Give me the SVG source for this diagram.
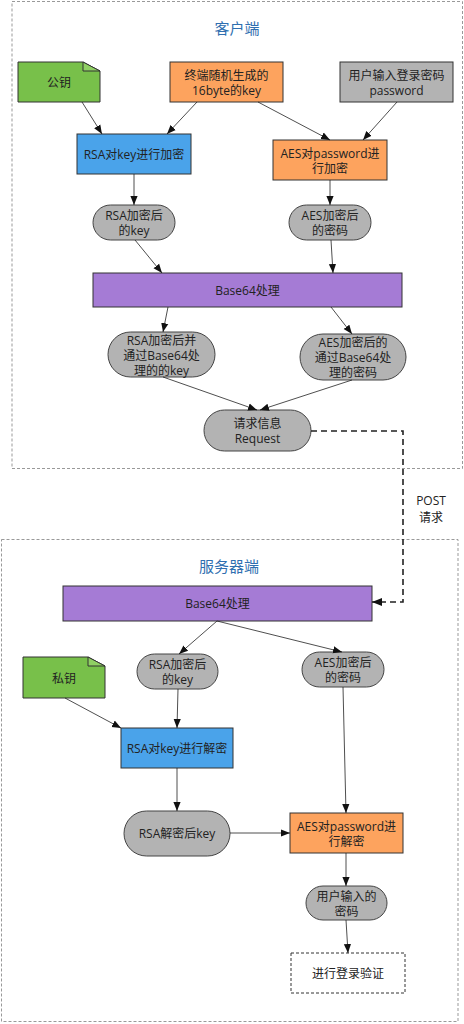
<svg xmlns="http://www.w3.org/2000/svg" width="464" height="1024" viewBox="0 0 464 1024">
<defs>
<style>
text{font-family:"Open Sans","Noto Sans CJK SC",sans-serif;font-size:12px;fill:#222;text-anchor:middle;dominant-baseline:central}
.title{font-size:15px;fill:#2f6fb0}
.frame{fill:none;stroke:#999;stroke-width:1;stroke-dasharray:3 2}
.n{stroke:#333;stroke-width:1}
.green{fill:#78c04a}
.orange{fill:#fda35e}
.gray{fill:#b3b3b3}
.blue{fill:#4aa3ea}
.purple{fill:#a57bd5}
.pill{fill:#b3b3b3;stroke:#444;stroke-width:1}
.c line{stroke:#222;stroke-width:0.8;fill:none;marker-end:url(#ah)}
.c .post{stroke:#222;stroke-width:1.6;fill:none;stroke-dasharray:6 4;marker-end:url(#ah2)}
</style>
<marker id="ah" viewBox="0 0 10 10" refX="10" refY="5" markerWidth="9" markerHeight="9" markerUnits="userSpaceOnUse" orient="auto"><path d="M0,1 L10,5 L0,9 Z" fill="#111"/></marker>
<marker id="ah2" viewBox="0 0 10 10" refX="10" refY="5" markerWidth="10" markerHeight="10" markerUnits="userSpaceOnUse" orient="auto"><path d="M0,1 L10,5 L0,9 Z" fill="#111"/></marker>
</defs>
<rect width="464" height="1024" fill="#fff"/>

<g id="client-frame">
<rect class="frame" x="12" y="1.5" width="450.5" height="467"/>
<text class="title" x="237" y="28">客户端</text>
</g>
<g id="server-frame">
<rect class="frame" x="1.5" y="539.5" width="456.5" height="482"/>
<text class="title" x="229" y="566">服务器端</text>
</g>

<g id="pubkey">
<path class="n green" d="M18,62 H83 L100,71 V102 H18 Z"/>
<path class="n" fill="#8fcf63" d="M83,62 V71 H100 Z"/>
<text x="59" y="82">公钥</text>
</g>
<g id="randkey">
<rect class="n orange" x="170" y="62" width="113" height="40"/>
<text x="226.5" y="75.5">终端随机生成的</text>
<text x="226.5" y="90.5">16byte的key</text>
</g>
<g id="password">
<rect class="n gray" x="340" y="62" width="113" height="40"/>
<text x="396.5" y="75.5">用户输入登录密码</text>
<text x="396.5" y="90.5">password</text>
</g>
<g id="rsa-enc">
<rect class="n blue" x="77" y="134" width="114" height="40"/>
<text x="134" y="154">RSA对key进行加密</text>
</g>
<g id="aes-enc">
<rect class="n orange" x="273" y="140" width="114" height="40"/>
<text x="330" y="153.5">AES对password进</text>
<text x="330" y="168.5">行加密</text>
</g>
<g id="rsa-key">
<rect class="pill" x="93" y="205" width="82" height="35" rx="17.5"/>
<text x="134" y="215.5">RSA加密后</text>
<text x="134" y="230.5">的key</text>
</g>
<g id="aes-pwd">
<rect class="pill" x="289" y="205" width="82" height="35" rx="17.5"/>
<text x="330" y="215.5">AES加密后</text>
<text x="330" y="230.5">的密码</text>
</g>
<g id="base64-client">
<rect class="n purple" x="93" y="273" width="309" height="34"/>
<text x="247.5" y="290">Base64处理</text>
</g>
<g id="rsa-b64">
<rect class="pill" x="108" y="332" width="107" height="45" rx="22.5"/>
<text x="161.5" y="340">RSA加密后并</text>
<text x="161.5" y="355">通过Base64处</text>
<text x="161.5" y="370">理的的key</text>
</g>
<g id="aes-b64">
<rect class="pill" x="300" y="334" width="106" height="46" rx="23"/>
<text x="353" y="342.5">AES加密后的</text>
<text x="353" y="357.5">通过Base64处</text>
<text x="353" y="372.5">理的密码</text>
</g>
<g id="request">
<rect class="pill" x="204" y="410" width="107" height="41" rx="20.5"/>
<text x="257.5" y="423">请求信息</text>
<text x="257.5" y="438">Request</text>
</g>

<g id="post-label">
<text x="431" y="500">POST</text>
<text x="431" y="517">请求</text>
</g>

<g id="base64-server">
<rect class="n purple" x="63" y="586" width="309" height="35"/>
<text x="217.5" y="603.5">Base64处理</text>
</g>
<g id="privkey">
<path class="n green" d="M23,657 H88 L105,666 V698 H23 Z"/>
<path class="n" fill="#8fcf63" d="M88,657 V666 H105 Z"/>
<text x="64" y="678">私钥</text>
</g>
<g id="rsa-key-s">
<rect class="pill" x="137" y="654" width="81" height="35" rx="17.5"/>
<text x="177.5" y="664.5">RSA加密后</text>
<text x="177.5" y="679.5">的key</text>
</g>
<g id="aes-pwd-s">
<rect class="pill" x="302" y="652" width="82" height="35" rx="17.5"/>
<text x="343" y="662.5">AES加密后</text>
<text x="343" y="677.5">的密码</text>
</g>
<g id="rsa-dec">
<rect class="n blue" x="121" y="728" width="112" height="40"/>
<text x="177" y="748">RSA对key进行解密</text>
</g>
<g id="rsa-dec-key">
<rect class="pill" x="124" y="811" width="106" height="45" rx="22.5"/>
<text x="177" y="833.5">RSA解密后key</text>
</g>
<g id="aes-dec">
<rect class="n orange" x="290" y="813" width="113" height="40"/>
<text x="346.5" y="826.5">AES对password进</text>
<text x="346.5" y="841.5">行解密</text>
</g>
<g id="user-pwd">
<rect class="pill" x="306" y="886" width="81" height="34" rx="17"/>
<text x="346.5" y="896">用户输入的</text>
<text x="346.5" y="911">密码</text>
</g>
<g id="verify">
<rect x="291" y="953" width="114" height="40" fill="#fff" stroke="#333" stroke-width="1" stroke-dasharray="3 2"/>
<text x="348" y="973">进行登录验证</text>
</g>

<g id="connectors" class="c">
<line x1="82" y1="102" x2="102" y2="134"/>
<line x1="197" y1="102" x2="167" y2="134"/>
<line x1="258" y1="102" x2="330" y2="140"/>
<line x1="397" y1="102" x2="363" y2="140"/>
<line x1="134" y1="174" x2="134" y2="205"/>
<line x1="330" y1="180" x2="330" y2="205"/>
<line x1="135" y1="240" x2="162" y2="273"/>
<line x1="331" y1="240" x2="333" y2="273"/>
<line x1="168" y1="307" x2="163" y2="332"/>
<line x1="331" y1="307" x2="352" y2="334"/>
<line x1="163" y1="377" x2="257" y2="410"/>
<line x1="352" y1="380" x2="260" y2="410"/>
<polyline class="post" points="311,431 403,431 403,602 372,602"/>
<line x1="217" y1="621" x2="179" y2="654"/>
<line x1="217" y1="621" x2="342" y2="652"/>
<line x1="65" y1="698" x2="121" y2="728"/>
<line x1="178" y1="689" x2="177" y2="728"/>
<line x1="343" y1="687" x2="346" y2="813"/>
<line x1="177" y1="768" x2="177" y2="811"/>
<line x1="230" y1="833" x2="290" y2="833"/>
<line x1="346" y1="853" x2="346" y2="886"/>
<line x1="346" y1="920" x2="348" y2="953"/>
</g>
</svg>
